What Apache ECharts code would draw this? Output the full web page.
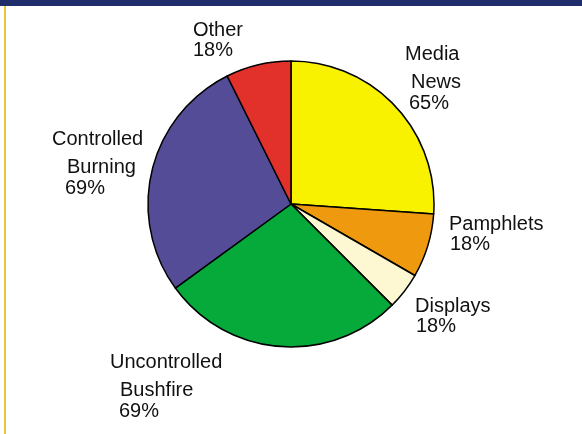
<!DOCTYPE html>
<html>
<head>
<meta charset="utf-8">
<script src="https://cdn.jsdelivr.net/npm/echarts@6/dist/echarts.min.js"></script>
<style>
  html, body { margin: 0; padding: 0; background: #ffffff; }
  #chart { width: 582px; height: 434px; }
</style>
</head>
<body>
<div id="chart"></div>
<script>
// ---- data ----
const categories = ['Media News', 'Pamphlets', 'Displays', 'Uncontrolled Bushfire', 'Controlled Burning', 'Other'];
// estimated slice sizes (share of the full circle, in degrees as drawn)
const sliceValues = [94, 26, 15, 99, 99.5, 26.5];
// the percentages printed in the labels
const percentLabels = ['65%', '18%', '18%', '69%', '69%', '18%'];

// ---- styling / layout (kept separate from data) ----
const sliceColors = ['#f8f200', '#ef9a0e', '#fdf8d2', '#06aa3a', '#554c97', '#e2312a'];
// label block: left x, top y, per-line x offsets
const labelLayoutSpec = [
  { x: 405, y: 37,  dx: [0, 6, 4] },
  { x: 449, y: 214, dx: [0, 1] },
  { x: 415, y: 296, dx: [0, 1] },
  { x: 110, y: 345, dx: [0, 10, 9] },
  { x: 52,  y: 122, dx: [0, 15, 13] },
  { x: 193, y: 20,  dx: [0, 0] }
];

const chart = echarts.init(document.getElementById('chart'), null, { renderer: 'canvas' });

const data = categories.map((name, i) => {
  const lines = name.split(' ').concat([percentLabels[i]]);
  const spec = labelLayoutSpec[i];
  const rich = {};
  lines.forEach((t, k) => {
    let lh = 20;
    if (lines.length === 3) lh = (k === 0) ? 35 : 21;
    rich['l' + k] = {
      fontFamily: 'Liberation Sans, Arial, sans-serif',
      fontSize: 20,
      color: '#111111',
      lineHeight: lh,
      padding: [0, 0, 0, spec.dx[k] || 0]
    };
  });
  return {
    name: name,
    value: sliceValues[i],
    itemStyle: { color: sliceColors[i] },
    label: {
      formatter: lines.map((t, k) => '{l' + k + '|' + t + '}').join('\n'),
      rich: rich
    }
  };
});

chart.setOption({
  animation: false,
  backgroundColor: '#ffffff',
  graphic: [
    { type: 'rect', shape: { x: 0, y: 0, width: 582, height: 6 }, style: { fill: '#1f2d6b' }, silent: true },
    { type: 'rect', shape: { x: 4, y: 6, width: 2, height: 428 }, style: { fill: '#e6c63a' }, silent: true }
  ],
  series: [{
    type: 'pie',
    center: [291, 204],
    radius: 143,
    startAngle: 90,
    clockwise: true,
    avoidLabelOverlap: false,
    emphasis: { disabled: true },
    itemStyle: { borderColor: '#000000', borderWidth: 1.5 },
    label: {
      show: true,
      position: 'outside',
      align: 'left'
    },
    labelLine: { show: false },
    labelLayout: function (params) {
      const spec = labelLayoutSpec[params.dataIndex];
      return { x: spec.x, y: spec.y, align: 'left', verticalAlign: 'top' };
    },
    data: data
  }]
});
</script>
</body>
</html>
